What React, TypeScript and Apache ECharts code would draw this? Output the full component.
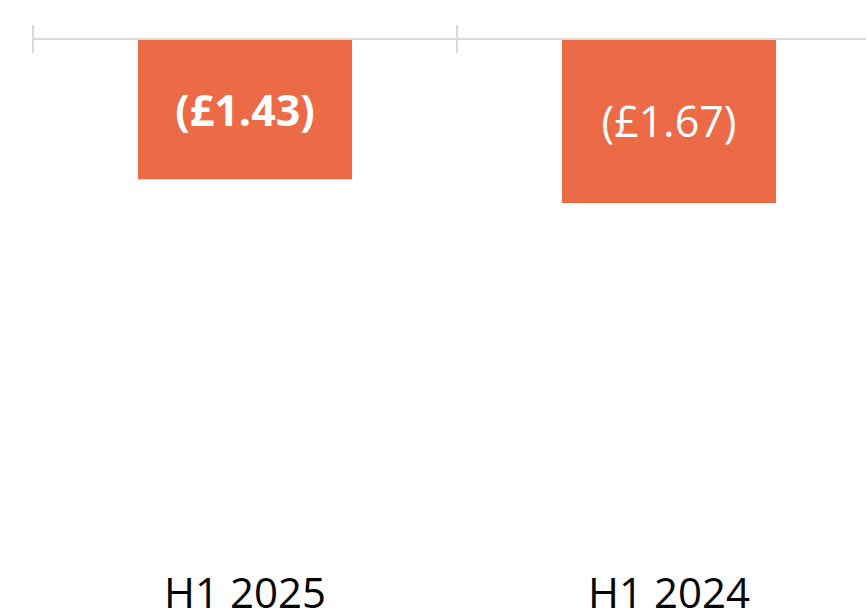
import React, { useEffect, useRef } from "react";
import * as echarts from "echarts";

const categories = ["H1 2025", "H1 2024"];
const values = [-1.43, -1.67];
const labelWeights = ["bold", "normal"];

const BAR_COLOR = "#ED6A47";
const AXIS_COLOR = "#D9D9D9";
const FONT = "'Open Sans', 'Noto Sans', 'Liberation Sans', sans-serif";

export default function App() {
  const ref = useRef<HTMLDivElement>(null);
  useEffect(() => {
    if (!ref.current) return;
    const chart = echarts.init(ref.current, null, { renderer: "svg" });
    const fmt = (v: number) => `(£${Math.abs(v).toFixed(2)})`;
    chart.setOption({
      animation: false,
      backgroundColor: "#FFFFFF",
      grid: { left: 33, right: 19, top: 39, bottom: 40, containLabel: false },
      xAxis: [
        {
          type: "category",
          data: categories,
          position: "top",
          z: 5,
          axisLine: { show: true, onZero: false, lineStyle: { color: AXIS_COLOR, width: 2 } },
          axisTick: { show: true, inside: false, length: 14, lineStyle: { color: AXIS_COLOR, width: 2 } },
          axisLabel: { show: false },
          splitLine: { show: false },
        },
        {
          type: "category",
          data: categories,
          position: "top",
          z: 5,
          axisLine: { show: false, onZero: false },
          axisTick: { show: true, inside: true, length: 14, lineStyle: { color: AXIS_COLOR, width: 2 } },
          axisLabel: { show: false },
          splitLine: { show: false },
        },
        {
          type: "category",
          data: categories,
          position: "bottom",
          axisLine: { show: false, onZero: false },
          axisTick: { show: false },
          axisLabel: {
            show: true,
            margin: 5,
            color: "#000000",
            fontFamily: FONT,
            fontSize: 42,
            lineHeight: 34,
          },
          splitLine: { show: false },
        },
      ],
      yAxis: {
        type: "value",
        min: -5.4,
        max: 0,
        show: false,
        splitLine: { show: false },
      },
      series: [
        {
          type: "bar",
          xAxisIndex: 0,
          barWidth: 214,
          data: values.map((v, i) => ({
            value: v,
            label: { fontWeight: labelWeights[i] },
          })),
          itemStyle: { color: BAR_COLOR },
          label: {
            show: true,
            position: "inside",
            color: "#FFFFFF",
            fontFamily: FONT,
            fontSize: 43,
            formatter: (p: any) => fmt(p.value),
          },
        },
      ],
    });
    return () => chart.dispose();
  }, []);
  return (
    <div style={{ position: "fixed", left: 0, top: 0, width: 866, height: 612, overflow: "hidden", background: "#fff" }}>
      <div ref={ref} style={{ width: 900, height: 612 }} />
    </div>
  );
}
